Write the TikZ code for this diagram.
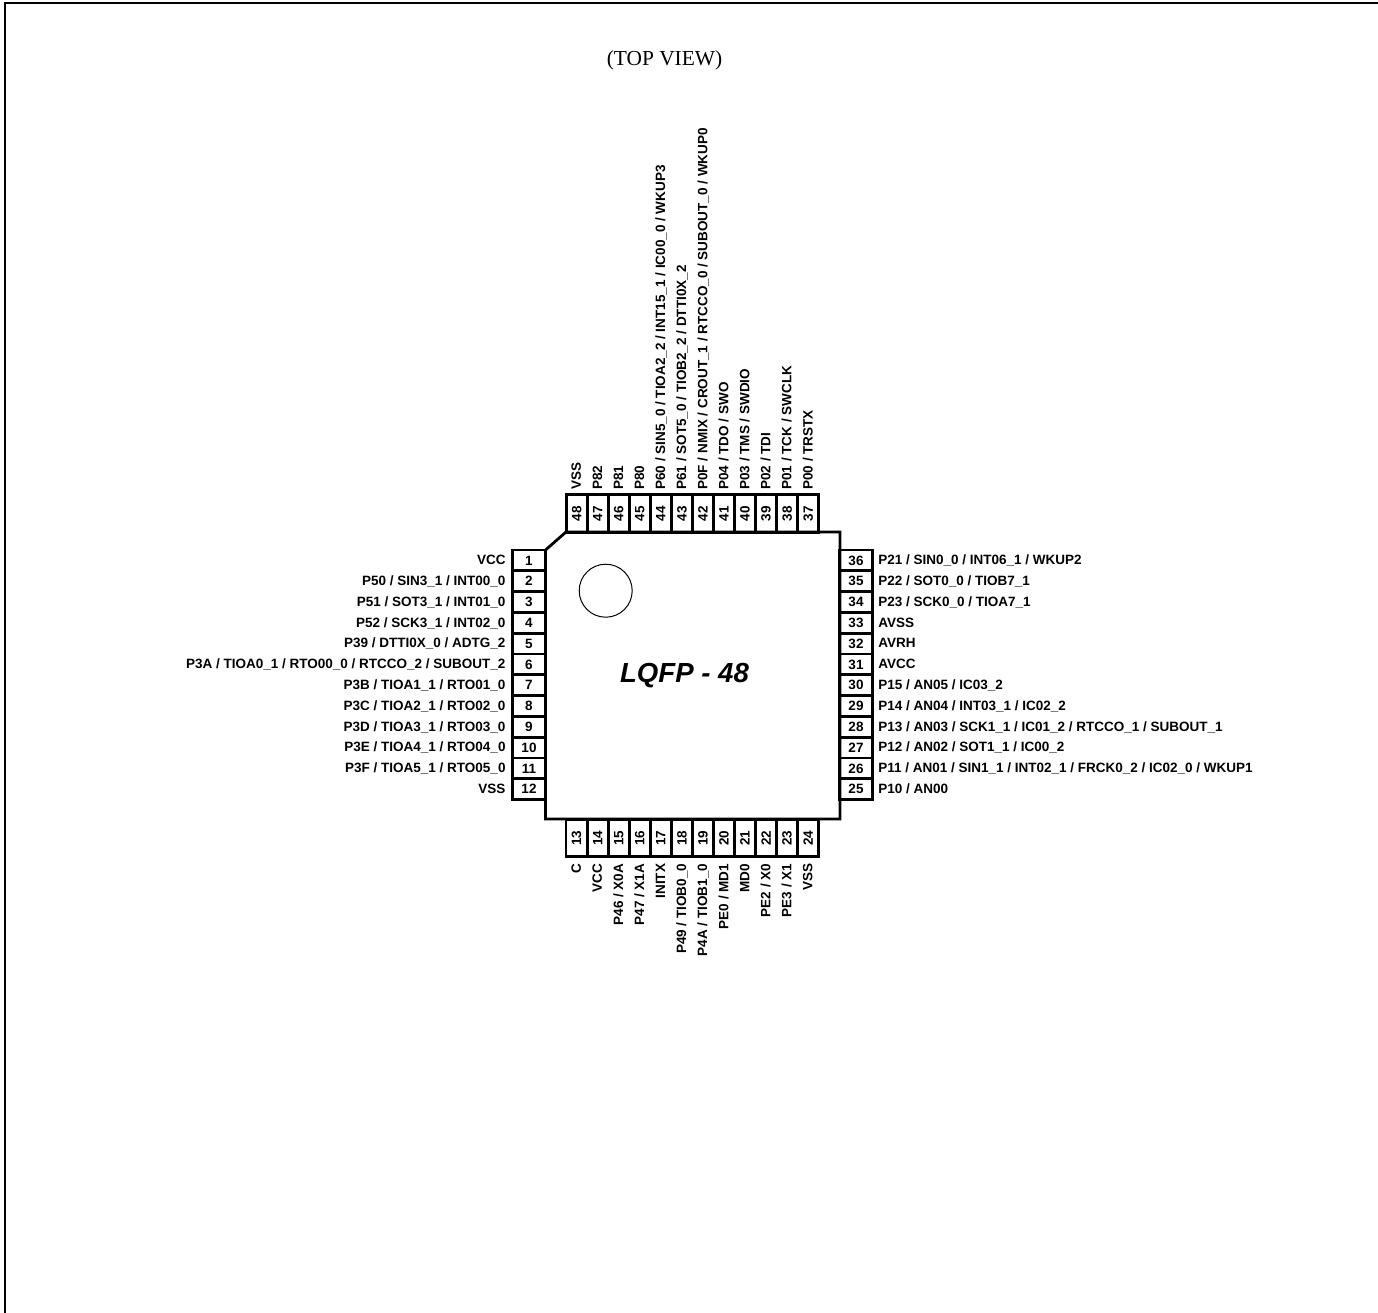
\documentclass[tikz,border=0pt]{standalone}
\usepackage{fontspec}
\setmainfont{Liberation Sans}
\newfontfamily\viewfont{Liberation Serif}
\usetikzlibrary{positioning}

\begin{document}
\begin{tikzpicture}[x=0.5pt, y=-0.5pt,
    pinh/.style={rectangle, draw, line width=1.4pt, inner sep=0pt, minimum width=16.5pt,
                 minimum height=10.4pt, font=\fontsize{6.75}{8}\bfseries\selectfont},
    pinv/.style={pinh, rotate=90, minimum width=18.75pt, minimum height=10.55pt},
    pinlabel/.style={inner sep=0pt, text height=4.9pt, text depth=0.6pt,
                     font=\fontsize{6.75}{8}\bfseries\selectfont}]

    \useasboundingbox (0, 0) rectangle (1378, 1313);

    % page frame
    \draw[line width=1pt] (5, 1313) -- (5, 3) -- (1378, 3);
    \node[inner sep=0pt, font=\fontsize{10.7}{12}\viewfont\selectfont] (title) at (664.5, 60) {(TOP VIEW)};

    % package
    \draw[line width=1.4pt] (566, 532) -- (840, 532) -- (840, 819) -- (545.5, 819) -- (545.5, 550) -- cycle;
    \node[circle, draw, line width=0.5pt, minimum size=26.5pt, inner sep=0pt] (dot) at (605.7, 590.7) {};
    \node[inner sep=0pt, font=\fontsize{13.8}{16}\bfseries\itshape\selectfont] (name) at (684.5, 676) {LQFP - 48};

    % left side
    \foreach \n/\txt [count=\i from 0] in {1/VCC, 2/{P50 / SIN3\_1 / INT00\_0}, 3/{P51 / SOT3\_1 / INT01\_0},
        4/{P52 / SCK3\_1 / INT02\_0}, 5/{P39 / DTTI0X\_0 / ADTG\_2},
        6/{P3A / TIOA0\_1 / RTO00\_0 / RTCCO\_2 / SUBOUT\_2}, 7/{P3B / TIOA1\_1 / RTO01\_0},
        8/{P3C / TIOA2\_1 / RTO02\_0}, 9/{P3D / TIOA3\_1 / RTO03\_0}, 10/{P3E / TIOA4\_1 / RTO04\_0},
        11/{P3F / TIOA5\_1 / RTO05\_0}, 12/VSS} {
        \node[pinh] (pin\n) at (529, 560.4 + 20.8*\i) {\n};
        \node[pinlabel, left=2.6pt of pin\n] (lab\n) {\txt};
    }

    % bottom side
    \foreach \n/\txt [count=\i from 0] in {13/C, 14/VCC, 15/{P46 / X0A}, 16/{P47 / X1A}, 17/INITX,
        18/{P49 / TIOB0\_0}, 19/{P4A / TIOB1\_0}, 20/{PE0 / MD1}, 21/MD0, 22/{PE2 / X0},
        23/{PE3 / X1}, 24/VSS} {
        \node[pinv] (pin\n) at (576.6 + 21.05*\i, 838) {\n};
        \node[pinlabel, rotate=90, anchor=east] (lab\n) at ([yshift=-2.6pt]pin\n.west) {\txt};
    }

    % right side
    \foreach \n/\txt [count=\i from 0] in {25/{P10 / AN00},
        26/{P11 / AN01 / SIN1\_1 / INT02\_1 / FRCK0\_2 / IC02\_0 / WKUP1}, 27/{P12 / AN02 / SOT1\_1 / IC00\_2},
        28/{P13 / AN03 / SCK1\_1 / IC01\_2 / RTCCO\_1 / SUBOUT\_1}, 29/{P14 / AN04 / INT03\_1 / IC02\_2},
        30/{P15 / AN05 / IC03\_2}, 31/AVCC, 32/AVRH, 33/AVSS, 34/{P23 / SCK0\_0 / TIOA7\_1},
        35/{P22 / SOT0\_0 / TIOB7\_1}, 36/{P21 / SIN0\_0 / INT06\_1 / WKUP2}} {
        \node[pinh] (pin\n) at (856, 789.2 - 20.8*\i) {\n};
        \node[pinlabel, right=2pt of pin\n] (lab\n) {\txt};
    }

    % top side
    \foreach \n/\txt [count=\i from 0] in {37/{P00 / TRSTX}, 38/{P01 / TCK / SWCLK}, 39/{P02 / TDI},
        40/{P03 / TMS / SWDIO}, 41/{P04 / TDO / SWO},
        42/{P0F / NMIX / CROUT\_1 / RTCCO\_0 / SUBOUT\_0 / WKUP0}, 43/{P61 / SOT5\_0 / TIOB2\_2 / DTTI0X\_2},
        44/{P60 / SIN5\_0 / TIOA2\_2 / INT15\_1 / IC00\_0 / WKUP3}, 45/P80, 46/P81, 47/P82, 48/VSS} {
        \node[pinv] (pin\n) at (808.2 - 21.05*\i, 513.5) {\n};
        \node[pinlabel, rotate=90, anchor=west] (lab\n) at ([yshift=1.7pt]pin\n.east) {\txt};
    }
\end{tikzpicture}
\end{document}
